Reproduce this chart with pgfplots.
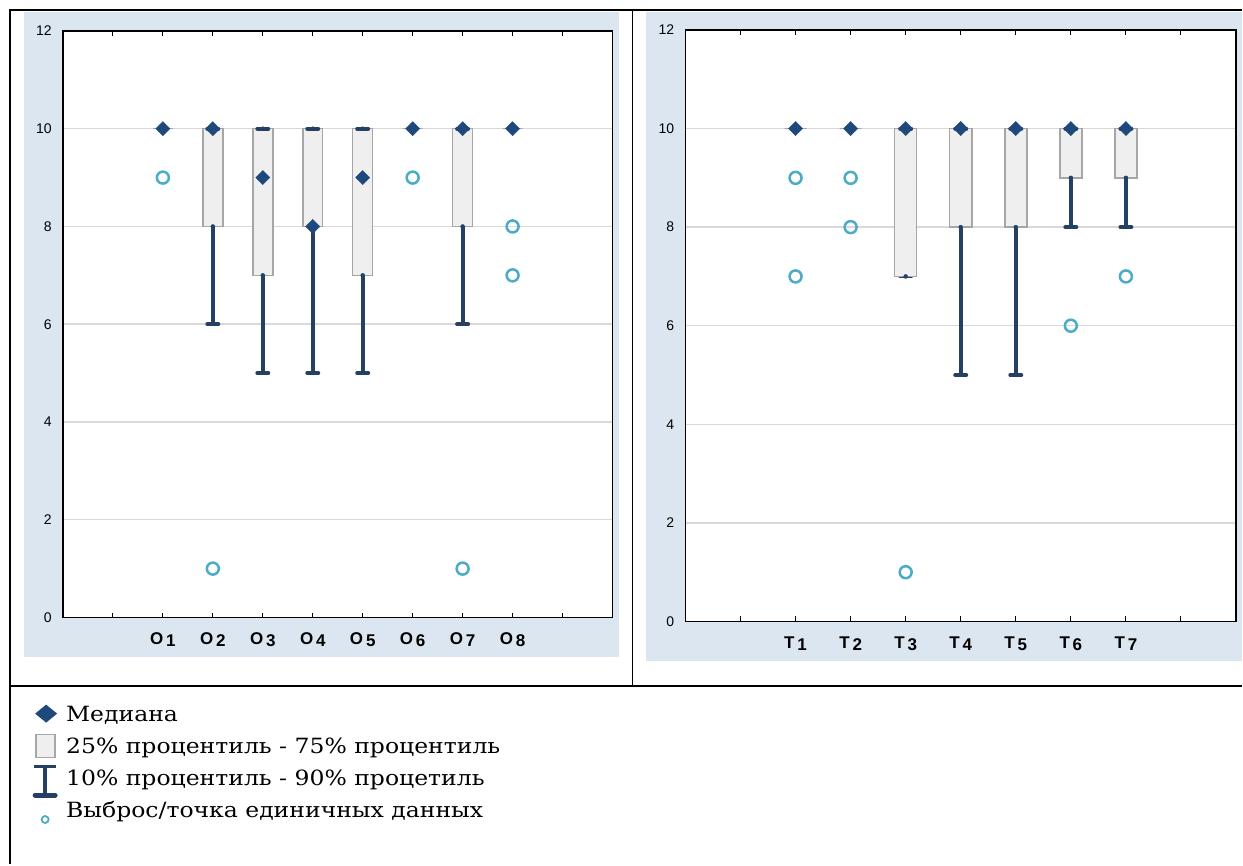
\documentclass[border=0pt]{standalone}
\usepackage{fontspec}
\setmainfont{DejaVu Serif}
\newfontfamily\legfont[FakeStretch=1.12]{DejaVu Serif}
\newfontfamily\arial{Liberation Sans}
\usepackage{pgfplots}
\pgfplotsset{compat=1.18}
\usepgfplotslibrary{statistics}
\definecolor{panelbg}{RGB}{220,230,241}
\definecolor{gridc}{RGB}{217,217,217}
\definecolor{boxedge}{RGB}{166,166,166}
\definecolor{boxfill}{RGB}{239,239,239}
\definecolor{whisk}{RGB}{36,64,98}
\definecolor{medc}{RGB}{31,73,125}
\definecolor{outc}{RGB}{75,172,198}
\newcommand{\olab}[2]{#1\,\raisebox{-2pt}{#2}}

\pgfplotsset{
  panel/.style={
    scale only axis,
    axis background/.style={fill=white},
    ymin=0, ymax=12, ytick={0,2,...,12},
    ymajorgrids, grid style={gridc, line width=1.5pt},
    axis line style={black, line width=1.5pt},
    ytick style={draw=none},
    xtick pos=both, tick align=inside,
    xtick style={black, line width=1pt}, major tick length=5pt,
    /pgf/number format/assume math mode=true,
    yticklabel style={font=\arial\fontsize{14}{16}\selectfont, inner sep=0pt, xshift=-11pt},
    xticklabel style={font=\arial\fontsize{17}{20}\selectfont\bfseries, yshift=-12pt},
    clip=false,
  },
  bxs/.style={forget plot, draw=boxedge, fill=boxfill, line width=1.5pt,
    boxplot/draw direction=y,
    boxplot/box extend=0.4, boxplot/whisker extend=0, boxplot/draw/median/.code={}},
  lwhisk/.style={forget plot, only marks, mark=none, whisk,
    error bars/.cd, y dir=minus, y explicit,
    error bar style={line width=4pt, whisk},
    error mark options={rotate=90, whisk, line width=4pt, mark size=5.5pt, line cap=round}},
  uwhisk/.style={forget plot, only marks, mark=none, whisk,
    error bars/.cd, y dir=plus, y explicit,
    error bar style={line width=4pt, whisk},
    error mark options={rotate=90, whisk, line width=4pt, mark size=5.5pt, line cap=round}},
  meds/.style={forget plot, only marks, mark=square*, mark size=5pt,
    mark options={rotate=45, draw=medc, fill=medc}},
  outs/.style={forget plot, only marks, mark=o, mark size=6pt,
    mark options={draw=outc, line width=2.5pt}},
}

\begin{document}
\begin{tikzpicture}
\fill[white] (0pt,0pt) rectangle (1243pt,865pt);
\fill[panelbg] (24pt,207pt) rectangle (619pt,853pt);
\fill[panelbg] (647pt,203pt) rectangle (1243pt,853pt);
\draw[line width=2pt] (10pt,0pt) -- (10pt,855pt) -- (1243pt,855pt);
\draw[line width=2pt] (633pt,855pt) -- (633pt,178pt);
\draw[line width=2pt] (10pt,178pt) -- (1243pt,178pt);

% ---------------- left panel ----------------
\begin{axis}[panel, at={(63pt,247pt)}, anchor=south west, width=550pt, height=587pt,
  xmin=1, xmax=12, xtick={2,...,11},
  xticklabels={{},{\olab{O}{1}},{\olab{O}{2}},{\olab{O}{3}},{\olab{O}{4}},{\olab{O}{5}},{\olab{O}{6}},{\olab{O}{7}},{\olab{O}{8}},{}},
  legend style={at={(-0.0564,-0.1431)}, anchor=north west, draw=none, fill=none, inner sep=0pt,
    font=\legfont\fontsize{21}{24}\selectfont, row sep=0pt,
    nodes={inner sep=0pt, text height=20pt, text depth=12pt},
    /tikz/every odd column/.append style={column sep=9pt}},
  legend cell align=left,
]
\addlegendimage{legend image code/.code={
  \path[draw=none,fill=none] (0pt,-4pt) rectangle (25pt,4pt);
  \fill[medc,draw=none,overlay] (14pt,13pt) -- (25pt,4pt) -- (14pt,-5pt) -- (3pt,4pt) -- cycle;}}
\addlegendentry{Медиана}
\addlegendimage{legend image code/.code={
  \path[draw=none,fill=none] (0pt,-4pt) rectangle (25pt,4pt);
  \filldraw[overlay, fill=boxfill, draw=boxedge, line width=1.5pt] (4pt,-8pt) rectangle (23pt,15pt);}}
\addlegendentry{25\% процентиль - 75\% процентиль}
\addlegendimage{legend image code/.code={
  \path[draw=none,fill=none] (0pt,-4pt) rectangle (25pt,4pt);
  \draw[overlay, whisk, line width=3pt] (2pt,15.5pt) -- (24pt,15.5pt);
  \draw[overlay, whisk, line width=4pt] (13pt,15pt) -- (13pt,-13pt);
  \draw[overlay, whisk, line width=5pt, line cap=round] (3pt,-13.5pt) -- (23pt,-13.5pt);}}
\addlegendentry{10\% процентиль - 90\% процетиль}
\addlegendimage{legend image code/.code={
  \path[draw=none,fill=none] (0pt,-4pt) rectangle (25pt,4pt);
  \draw[overlay, outc, fill=none, line width=1.8pt] (13pt,-6pt) circle (3.5pt);}}
\addlegendentry{Выброс/точка единичных данных}

% lower whiskers
\addplot[lwhisk] coordinates {(4,8) -= (0,2) (5,7) -= (0,2) (6,8) -= (0,3) (7,7) -= (0,2) (9,8) -= (0,2)};
% boxes
\addplot[bxs, boxplot prepared={draw position=3, lower whisker=10, lower quartile=10, median=10, upper quartile=10, upper whisker=10}] coordinates {};
\addplot[bxs, boxplot prepared={draw position=4, lower whisker=8, lower quartile=8, median=10, upper quartile=10, upper whisker=10}] coordinates {};
\addplot[bxs, boxplot prepared={draw position=5, lower whisker=7, lower quartile=7, median=9, upper quartile=10, upper whisker=10}] coordinates {};
\addplot[bxs, boxplot prepared={draw position=6, lower whisker=8, lower quartile=8, median=8, upper quartile=10, upper whisker=10}] coordinates {};
\addplot[bxs, boxplot prepared={draw position=7, lower whisker=7, lower quartile=7, median=9, upper quartile=10, upper whisker=10}] coordinates {};
\addplot[bxs, boxplot prepared={draw position=8, lower whisker=10, lower quartile=10, median=10, upper quartile=10, upper whisker=10}] coordinates {};
\addplot[bxs, boxplot prepared={draw position=9, lower whisker=8, lower quartile=8, median=10, upper quartile=10, upper whisker=10}] coordinates {};
\addplot[bxs, boxplot prepared={draw position=10, lower whisker=10, lower quartile=10, median=10, upper quartile=10, upper whisker=10}] coordinates {};
% upper whisker caps
\addplot[uwhisk] coordinates {(4,10) += (0,0) (5,10) += (0,0) (6,10) += (0,0) (7,10) += (0,0) (9,10) += (0,0)};
% medians
\addplot[meds] coordinates {(3,10) (4,10) (5,9) (6,8) (7,9) (8,10) (9,10) (10,10)};
% outliers
\addplot[outs] coordinates {(3,9) (4,1) (8,9) (9,1) (10,8) (10,7)};
\end{axis}

% ---------------- right panel ----------------
\begin{axis}[panel, at={(686pt,243pt)}, anchor=south west, width=551pt, height=592pt,
  xmin=0, xmax=10, xtick={1,...,9},
  xticklabels={{},{\olab{T}{1}},{\olab{T}{2}},{\olab{T}{3}},{\olab{T}{4}},{\olab{T}{5}},{\olab{T}{6}},{\olab{T}{7}},{}},
]
\addplot[lwhisk] coordinates {(4,7) -= (0,0) (5,8) -= (0,3) (6,8) -= (0,3) (7,9) -= (0,1) (8,9) -= (0,1)};
\addplot[bxs, boxplot prepared={draw position=2, lower whisker=10, lower quartile=10, median=10, upper quartile=10, upper whisker=10}] coordinates {};
\addplot[bxs, boxplot prepared={draw position=3, lower whisker=10, lower quartile=10, median=10, upper quartile=10, upper whisker=10}] coordinates {};
\addplot[bxs, boxplot prepared={draw position=4, lower whisker=7, lower quartile=7, median=10, upper quartile=10, upper whisker=10}] coordinates {};
\addplot[bxs, boxplot prepared={draw position=5, lower whisker=8, lower quartile=8, median=10, upper quartile=10, upper whisker=10}] coordinates {};
\addplot[bxs, boxplot prepared={draw position=6, lower whisker=8, lower quartile=8, median=10, upper quartile=10, upper whisker=10}] coordinates {};
\addplot[bxs, boxplot prepared={draw position=7, lower whisker=9, lower quartile=9, median=10, upper quartile=10, upper whisker=10}] coordinates {};
\addplot[bxs, boxplot prepared={draw position=8, lower whisker=9, lower quartile=9, median=10, upper quartile=10, upper whisker=10}] coordinates {};
\addplot[uwhisk] coordinates {(4,10) += (0,0) (5,10) += (0,0) (6,10) += (0,0) (7,10) += (0,0) (8,10) += (0,0)};
\addplot[meds] coordinates {(2,10) (3,10) (4,10) (5,10) (6,10) (7,10) (8,10)};
\addplot[outs] coordinates {(2,9) (2,7) (3,9) (3,8) (4,1) (7,6) (8,7)};
\end{axis}
\end{tikzpicture}
\end{document}
